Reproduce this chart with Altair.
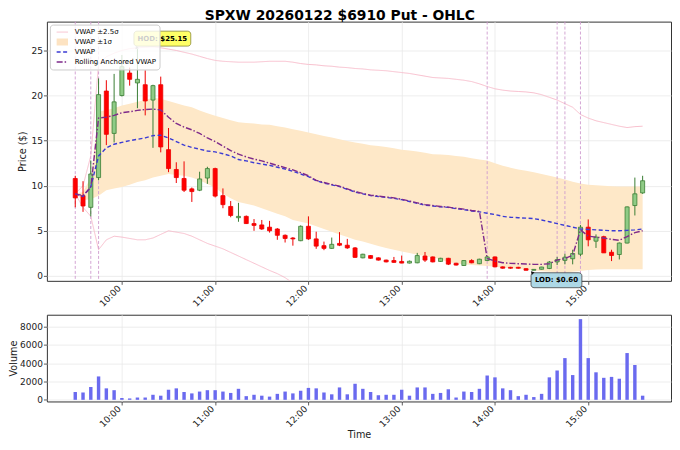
import altair as alt
import pandas as pd

times = ["9:30", "9:35", "9:40", "9:45", "9:50", "9:55", "10:00", "10:05", "10:10", "10:15",
         "10:20", "10:25", "10:30", "10:35", "10:40", "10:45", "10:50", "10:55", "11:00", "11:05",
         "11:10", "11:15", "11:20", "11:25", "11:30", "11:35", "11:40", "11:45", "11:50", "11:55",
         "12:00", "12:05", "12:10", "12:15", "12:20", "12:25", "12:30", "12:35", "12:40", "12:45",
         "12:50", "12:55", "13:00", "13:05", "13:10", "13:15", "13:20", "13:25", "13:30", "13:35",
         "13:40", "13:45", "13:50", "13:55", "14:00", "14:05", "14:10", "14:15", "14:20", "14:25",
         "14:30", "14:35", "14:40", "14:45", "14:50", "14:55", "15:00", "15:05", "15:10", "15:15",
         "15:20", "15:25", "15:30", "15:35"]

opens = [10.8, 8.9, 7.6, 10.9, 20.5, 15.8, 20.0, 22.5, 21.4, 21.2,
         19.5, 21.2, 14.0, 11.8, 10.8, 9.65, 9.5, 10.85, 11.9, 8.9,
         7.7, 6.45, 6.6, 5.8, 5.65, 5.4, 5.2, 4.5, 4.2, 3.9,
         5.5, 4.1, 3.35, 3.05, 3.6, 3.4, 3.1, 2.0, 2.25, 2.0,
         1.75, 1.7, 1.6, 1.42, 1.45, 2.2, 2.1, 1.6, 1.95, 1.4,
         1.15, 1.7, 1.35, 1.7, 2.1, 1.0, 0.95, 0.95, 0.8, 0.62,
         0.73, 0.82, 1.55, 1.72, 1.9, 2.4, 5.4, 3.85, 4.35, 2.62,
         2.37, 3.64, 7.8, 9.2]
highs = [11.1, 10.5, 12.8, 21.9, 21.7, 22.4, 24.5, 23.1, 25.15, 22.8,
         21.2, 22.1, 16.4, 12.6, 12.7, 9.8, 11.55, 12.1, 12.0, 9.7,
         8.3, 8.1, 6.7, 6.3, 6.2, 6.1, 5.3, 4.6, 4.3, 5.6,
         6.6, 4.9, 3.8, 4.25, 4.85, 4.1, 3.2, 2.45, 2.3, 2.05,
         1.8, 2.1, 2.25, 1.7, 2.55, 2.65, 2.15, 2.0, 2.0, 1.45,
         1.75, 1.85, 1.9, 2.2, 2.15, 1.05, 1.0, 1.0, 0.85, 0.75,
         1.0, 1.65, 2.1, 2.45, 2.9, 5.65, 6.26, 4.6, 4.45, 2.9,
         3.7, 7.7, 10.9, 11.1]
lows = [7.6, 7.1, 6.6, 10.6, 14.5, 14.8, 19.9, 21.1, 18.6, 17.8,
        14.2, 13.7, 11.5, 10.3, 9.3, 8.2, 9.4, 10.2, 8.7, 7.5,
        6.5, 6.0, 5.75, 5.0, 5.1, 4.8, 4.0, 3.7, 3.35, 3.85,
        4.0, 3.0, 2.85, 3.0, 3.3, 3.0, 2.0, 1.95, 1.9, 1.7,
        1.5, 1.45, 1.4, 1.38, 1.4, 1.55, 1.5, 1.55, 1.2, 1.15,
        1.1, 1.4, 1.3, 1.65, 0.95, 0.8, 0.8, 0.8, 0.6, 0.62,
        0.7, 0.75, 1.2, 1.28, 1.28, 2.19, 3.28, 3.1, 2.55, 1.64,
        1.82, 3.6, 6.7, 9.1]
closes = [8.65, 7.75, 11.3, 20.1, 15.7, 19.3, 23.2, 21.8, 21.8, 19.4,
          21.1, 14.3, 11.9, 10.9, 9.5, 9.35, 10.75, 11.9, 8.85, 7.9,
          6.7, 6.6, 5.8, 5.6, 5.2, 5.0, 4.5, 4.15, 4.1, 5.5,
          4.1, 3.3, 3.05, 3.5, 3.4, 3.1, 2.05, 2.4, 1.95, 1.75,
          1.55, 1.5, 1.42, 1.62, 2.25, 1.75, 1.55, 1.95, 1.3, 1.2,
          1.7, 1.45, 1.85, 2.1, 1.0, 0.85, 0.85, 0.85, 0.62, 0.72,
          0.98, 1.53, 1.8, 2.07, 2.48, 5.4, 4.0, 4.3, 2.55, 2.26,
          3.64, 7.65, 9.1, 10.55]
volumes = [850, 800, 1400, 2550, 1250, 1050, 200, 150, 250, 250,
           550, 450, 1100, 1250, 850, 700, 900, 1050, 1050, 900,
           750, 1200, 400, 550, 450, 350, 650, 900, 700, 1000,
           1300, 1250, 800, 600, 1350, 600, 1750, 1200, 850, 500,
           550, 550, 1100, 450, 1350, 1350, 650, 750, 1150, 250,
           900, 850, 1200, 2650, 2450, 1250, 1050, 400, 550, 300,
           650, 2450, 3200, 4550, 2700, 8800, 4550, 3000, 2400, 2500,
           2300, 5100, 3800, 450]

vwap = [9.1, 8.8, 9.9, 13.3, 14.2, 14.6, 14.8, 15.0, 15.15, 15.3,
        15.55, 15.6, 15.3, 14.9, 14.5, 14.25, 14.05, 13.85, 13.75, 13.55,
        13.3, 12.9, 12.75, 12.55, 12.4, 12.25, 12.05, 11.85, 11.6, 11.3,
        11.0, 10.55, 10.3, 10.1, 9.9, 9.6, 9.3, 9.1, 8.9, 8.8,
        8.7, 8.6, 8.45, 8.25, 8.05, 7.85, 7.75, 7.65, 7.6, 7.45,
        7.35, 7.2, 7.1, 6.95, 6.8, 6.6, 6.5, 6.45, 6.4, 6.35,
        6.2, 6.0, 5.8, 5.6, 5.4, 5.2, 5.15, 5.1, 5.05, 5.0,
        5.0, 5.05, 5.1, 5.2]
ravwap = [9.1, 8.9, 9.8, 17.5, 17.6, 17.8, 18.1, 18.2, 18.35, 18.45,
          18.5, 18.4, 17.6, 16.9, 16.5, 16.2, 15.8, 15.3, 14.9, 14.4,
          13.9, 13.5, 13.2, 12.95, 12.75, 12.5, 12.25, 12.0, 11.75, 11.45,
          11.1, 10.6, 10.35, 10.15, 9.95, 9.65, 9.35, 9.15, 8.95, 8.85,
          8.75, 8.65, 8.5, 8.3, 8.1, 7.9, 7.8, 7.7, 7.62, 7.5,
          7.4, 7.25, 7.15, 1.93, 1.64, 1.46, 1.39, 1.35, 1.31, 1.28,
          1.28, 1.35, 1.75, 1.93, 2.3, 5.1, 4.4, 4.3, 4.2, 4.05,
          3.95, 4.35, 4.8, 5.0]
band_up1 = [9.1, 9.3, 10.9, 18.2, 18.4, 18.6, 18.9, 19.1, 19.3, 19.5,
            19.75, 19.65, 19.4, 19.15, 18.9, 18.7, 18.35, 18.05, 17.75, 17.5,
            17.25, 17.05, 16.95, 16.9, 16.8, 16.75, 16.6, 16.45, 16.25, 16.1,
            15.9, 15.7, 15.5, 15.35, 15.15, 14.95, 14.8, 14.65, 14.5, 14.4,
            14.3, 14.15, 14.0, 13.9, 13.8, 13.65, 13.5, 13.45, 13.4, 13.3,
            13.2, 13.05, 12.9, 12.8, 12.5, 12.2, 12.0, 11.8, 11.65, 11.5,
            11.3, 11.1, 10.9, 10.7, 10.45, 10.25, 10.1, 10.05, 10.0, 9.95,
            9.9, 9.9, 9.9, 9.9]
band_lo1 = [9.1, 8.4, 8.5, 8.9, 9.5, 9.7, 9.85, 10.1, 10.4, 10.6,
            10.9, 11.1, 11.3, 11.2, 11.1, 10.9, 10.6, 10.2, 9.8, 9.1,
            8.6, 8.2, 8.0, 7.8, 7.5, 7.2, 6.9, 6.6, 6.2, 6.0,
            5.8, 5.5, 5.2, 4.9, 4.6, 4.3, 4.0, 3.8, 3.55, 3.3,
            3.1, 2.9, 2.7, 2.55, 2.35, 2.2, 2.05, 1.85, 1.5, 1.4,
            1.3, 1.2, 1.15, 1.1, 1.0, 0.9, 0.85, 0.75, 0.7, 0.6,
            0.5, 0.45, 0.4, 0.37, 0.45, 0.55, 0.65, 0.7, 0.73, 0.73,
            0.73, 0.73, 0.73, 0.73]
band_up2 = [9.1, 10.0, 13.3, 23.5, 24.3, 24.7, 25.0, 25.2, 25.3, 25.35,
            25.4, 25.3, 25.15, 25.0, 24.8, 24.6, 24.35, 24.1, 23.9, 23.8,
            23.75, 23.7, 23.7, 23.7, 23.75, 23.8, 23.8, 23.8, 23.7, 23.55,
            23.45, 23.4, 23.3, 23.25, 23.15, 23.1, 23.0, 22.95, 22.85, 22.8,
            22.75, 22.65, 22.55, 22.45, 22.3, 22.15, 22.0, 21.95, 21.9, 21.8,
            21.7, 21.55, 21.3, 21.0, 20.75, 20.6, 20.5, 20.45, 20.4, 20.3,
            20.1, 19.8, 19.5, 19.1, 18.7, 17.9, 17.5, 17.2, 17.0, 16.8,
            16.6, 16.45, 16.55, 16.6]
# lower 2.5-sigma line: visible only until it leaves the bottom of the axes
band_lo2 = [9.1, 7.6, 6.6, 2.9, 4.0, 4.4, 4.3, 4.15, 4.0, 4.0,
            4.2, 4.6, 5.0, 4.85, 4.7, 4.4, 4.0, 3.6, 3.3, 3.0,
            2.6, 2.2, 1.8, 1.4, 1.0, 0.6, 0.25, -0.2, -0.8]

anchor_times = ["9:30", "9:40", "9:45", "13:55", "14:40", "14:45", "14:55"]
series_names = ["VWAP ±2.5σ", "VWAP ±1σ", "VWAP", "Rolling Anchored VWAP"]
hour_ticks = ["10:00", "11:00", "12:00", "13:00", "14:00", "15:00"]
price_ticks = [0, 5, 10, 15, 20, 25]
volume_ticks = [0, 2000, 4000, 6000, 8000]


def to_min(s):
    h, m = s.split(":")
    return int(h) * 60 + int(m)


t = [to_min(s) for s in times]

ohlc = pd.DataFrame(dict(t=t, open=opens, high=highs, low=lows, close=closes, volume=volumes))
ohlc["dir"] = ["up" if c >= o else "down" for o, c in zip(opens, closes)]

band = pd.DataFrame(dict(t=t, up1=band_up1, lo1=band_lo1))

rows = []
for tm, v in zip(t, band_up2):
    rows.append(dict(t=tm, series="VWAP ±2.5σ", part="upper", value=v))
for tm, v in zip(t, band_lo2):
    rows.append(dict(t=tm, series="VWAP ±2.5σ", part="lower", value=v))
for tm, v in zip(t, vwap):
    rows.append(dict(t=tm, series="VWAP", part="main", value=v))
for tm, v in zip(t, ravwap):
    rows.append(dict(t=tm, series="Rolling Anchored VWAP", part="main", value=v))
lines = pd.DataFrame(rows)

anchors = pd.DataFrame(dict(t=[to_min(s) for s in anchor_times]))

ih = highs.index(max(highs))
il = lows.index(min(lows))
hod = pd.DataFrame([dict(t=t[ih], y=highs[ih], text=f"HOD: ${highs[ih]:.2f}")])
lod = pd.DataFrame([dict(t=t[il], y=lows[il], text=f"LOD: ${lows[il]:.2f}")])

PW = 626

# ---------------- scales / axes ----------------
xs = alt.Scale(domain=[551.75, 953.25], nice=False, zero=False)


def x_axis(title=None):
    return alt.Axis(values=[to_min(s) for s in hour_ticks],
                    labelExpr="floor(datum.value / 60) + ':00'",
                    labelAngle=315, labelAlign="right", labelBaseline="middle",
                    labelOffset=-3, labelPadding=2, title=title, titlePadding=1, grid=True)


def X(field, title=None):
    return alt.X(f"{field}:Q", scale=xs, axis=x_axis(title))


ys = alt.Scale(domain=[-0.55, 28.2], nice=False, zero=False)
y_axis = alt.Axis(values=price_ticks, title="Price ($)", titlePadding=3)


def Y(field):
    return alt.Y(f"{field}:Q", scale=ys, axis=y_axis)


legend = alt.Legend(title=None, orient="top-left", offset=3, fillColor="rgba(255,255,255,0.8)",
                    strokeColor="#cccccc", cornerRadius=3, padding=3, labelFontSize=7,
                    symbolType="stroke", symbolSize=130, clipHeight=9, rowPadding=1,
                    labelOffset=3)

color_enc = alt.Color("series:N", scale=alt.Scale(domain=series_names,
                      range=["#f7b9c8", "#fde3c2", "#3b3bd4", "#7e2a8a"]), legend=legend)
dash_enc = alt.StrokeDash("series:N", scale=alt.Scale(domain=series_names,
                          range=[[1, 0], [1, 0], [4, 2.5], [6, 2, 1.5, 2]]), legend=legend)
width_enc = alt.StrokeWidth("series:N", scale=alt.Scale(type="ordinal", domain=series_names,
                            range=[0.9, 7, 1.4, 1.4]), legend=legend)

fill_scale = alt.Scale(domain=["up", "down"], range=["#8fcb86", "#ff0000"])
stroke_scale = alt.Scale(domain=["up", "down"], range=["#3a7d34", "#ee0000"])

# ---------------- price panel ----------------
band_layer = alt.Chart(band).mark_area(color="#fee8c8").encode(
    x=X("t"), y=Y("lo1"), y2="up1:Q")

pink_layer = alt.Chart(lines).transform_filter("datum.series == 'VWAP ±2.5σ'").mark_line(clip=True).encode(
    x=X("t"), y=Y("value"), color=color_enc, strokeDash=dash_enc, strokeWidth=width_enc,
    detail="part:N", order="t:Q")

anchor_layer = alt.Chart(anchors).mark_rule(color="#cf9ccf", strokeDash=[3, 2], strokeWidth=0.9).encode(
    x=X("t"))

wick_layer = alt.Chart(ohlc).mark_rule(strokeWidth=1).encode(
    x=X("t"), y=Y("low"), y2="high:Q",
    stroke=alt.Stroke("dir:N", scale=stroke_scale, legend=None))

body_layer = alt.Chart(ohlc).transform_calculate(
    x0="datum.t - 1.3", x1="datum.t + 1.3").mark_bar(strokeWidth=0.8).encode(
    x=X("x0"), x2="x1:Q", y=Y("open"), y2="close:Q",
    fill=alt.Fill("dir:N", scale=fill_scale, legend=None),
    stroke=alt.Stroke("dir:N", scale=stroke_scale, legend=None))

vwap_layer = alt.Chart(lines).transform_filter("datum.series != 'VWAP ±2.5σ'").mark_line().encode(
    x=X("t"), y=Y("value"), color=color_enc, strokeDash=dash_enc, strokeWidth=width_enc,
    detail="part:N", order="t:Q")

hod_box = alt.Chart(hod).mark_rect(width=57, height=15, cornerRadius=3, fill="#ffff66",
                                   stroke="#8a8a3a", strokeWidth=0.8, xOffset=25, yOffset=-10.5).encode(
    x=X("t"), y=Y("y"))
hod_text = alt.Chart(hod).mark_text(fontSize=7, fontWeight="bold", color="black", dx=25, dy=-10.5,
                                    align="center", baseline="middle").encode(
    x=X("t"), y=Y("y"), text="text:N")
hod_arrow = alt.Chart(hod).mark_point(shape="triangle-up", angle=225, size=14, filled=True,
                                      color="#9a9a9a", xOffset=-1, yOffset=-1, opacity=1).encode(
    x=X("t"), y=Y("y"))

lod_box = alt.Chart(lod).mark_rect(width=51, height=15, cornerRadius=3, fill="#add8e6",
                                   stroke="#444444", strokeWidth=0.8, xOffset=30.5, yOffset=9.8).encode(
    x=X("t"), y=Y("y"))
lod_text = alt.Chart(lod).mark_text(fontSize=7, fontWeight="bold", color="black", dx=30.5, dy=9.8,
                                    align="center", baseline="middle").encode(
    x=X("t"), y=Y("y"), text="text:N")
lod_arrow = alt.Chart(lod).mark_point(shape="triangle-up", angle=315, size=14, filled=True,
                                      color="#111111", xOffset=6, yOffset=2, opacity=1).encode(
    x=X("t"), y=Y("y"))

price = alt.layer(band_layer, pink_layer, anchor_layer, wick_layer, body_layer, vwap_layer,
                  hod_box, hod_text, hod_arrow, lod_box, lod_text, lod_arrow).properties(
    width=PW, height=260)

# ---------------- volume panel ----------------
vol = alt.Chart(ohlc).transform_calculate(
    x0="datum.t - 1.1", x1="datum.t + 1.1", base="0").mark_bar(color="#6a6aef").encode(
    x=X("x0", "Time"), x2="x1:Q",
    y=alt.Y("volume:Q", scale=alt.Scale(domain=[-180, 9280], nice=False, zero=False),
            axis=alt.Axis(values=volume_ticks, format="d", title="Volume", titlePadding=1)),
    y2="base:Q").properties(width=PW, height=87)

chart = alt.vconcat(price, vol, spacing=34, bounds="flush").resolve_scale(
    color="independent", strokeDash="independent", strokeWidth="independent",
    fill="independent", stroke="independent").properties(
    title=alt.TitleParams("SPXW 20260122 $6910 Put - OHLC", fontSize=13.9, fontWeight="bold",
                          anchor="middle", offset=-2, color="black"),
    padding={"left": 0, "top": 0, "right": 0, "bottom": 0}
).configure(font="DejaVu Sans").configure_axis(
    labelFontSize=9, titleFontSize=9.7, titleFontWeight="normal",
    labelColor="#222222", titleColor="#222222", gridColor="#e8e8e8", gridWidth=0.8,
    tickColor="#333333", tickSize=3.5, tickWidth=0.8, domain=False, labelPadding=1
).configure_view(stroke="#333333", strokeWidth=1).configure_legend(labelFont="DejaVu Sans")

chart.save("out.html", embed_options={"renderer": "svg", "actions": False})
